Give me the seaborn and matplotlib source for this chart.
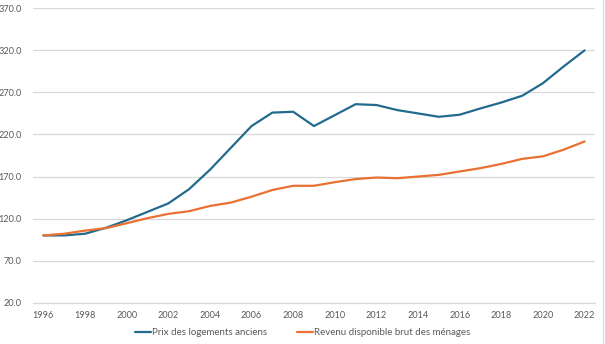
import numpy as np
import pandas as pd
import matplotlib
matplotlib.use("Agg")
import matplotlib.pyplot as plt
from matplotlib.lines import Line2D
import seaborn as sns

# Indices base 100 en 1996
years = list(range(1996, 2023))
prix_logements = [100, 100, 102, 109, 118, 128, 138, 155, 178, 204, 230, 246, 247,
                  230, 243, 256, 255, 249, 245, 241, 243.5, 251, 258, 266, 281, 301, 320]
revenu_disponible = [100, 102, 105.7, 108.6, 114.5, 120.5, 125.6, 128.8, 135, 139, 146,
                     154, 159, 159, 163.3, 167, 168.8, 168, 170, 172, 176, 180, 185,
                     191, 194, 202, 211.7]
series_names = ["Prix des logements anciens", "Revenu disponible brut des ménages"]
y_ticks = [20, 70, 120, 170, 220, 270, 320, 370]
x_ticks = list(range(1996, 2023, 2))

df = pd.DataFrame({
    "annee": years * 2,
    "indice": prix_logements + revenu_disponible,
    "serie": [series_names[0]] * len(years) + [series_names[1]] * len(years),
})

sns.set_theme(style="white")
plt.rcParams["font.family"] = ["Lato", "DejaVu Sans"]

colors = {series_names[0]: "#236B8E", series_names[1]: "#E97132"}

fig = plt.figure(figsize=(6.05, 3.44), dpi=100)
ax = fig.add_axes([0.0545, 0.12, 0.929, 0.8559])

sns.lineplot(data=df, x="annee", y="indice", hue="serie", palette=colors,
             linewidth=1.6, ax=ax, legend=False)

ax.set_xlim(1995.5, 2022.5)
ax.set_ylim(20, 370)
ax.set_yticks(y_ticks)
ax.set_yticklabels([f"{v:.1f}" for v in y_ticks])
ax.set_xticks(x_ticks)
ax.set_xticklabels([str(v) for v in x_ticks])
ax.set_xlabel("")
ax.set_ylabel("")

ax.grid(axis="y", color="#D9D9D9", linewidth=0.9)
ax.grid(axis="x", visible=False)
ax.set_axisbelow(True)
for side in ["top", "right", "left"]:
    ax.spines[side].set_visible(False)
ax.spines["bottom"].set_color("#D9D9D9")
ax.spines["bottom"].set_linewidth(0.9)
ax.tick_params(axis="both", length=0, labelsize=6.6, colors="#595959")
ax.tick_params(axis="y", pad=8)
ax.tick_params(axis="x", pad=6)

handles = [Line2D([0], [0], color=colors[n], linewidth=1.6) for n in series_names]
fig.legend(handles, series_names, loc="center", bbox_to_anchor=(0.5, 0.032),
           ncol=2, frameon=False, fontsize=7.0, labelcolor="#595959",
           handlelength=1.7, handletextpad=0.1, columnspacing=3.0)

# fine bordure grise du cadre à droite
fig.add_artist(Line2D([0.996, 0.996], [0, 1], color="#D9D9D9", linewidth=0.9,
                      transform=fig.transFigure))

fig.savefig("out.png", dpi=100)
